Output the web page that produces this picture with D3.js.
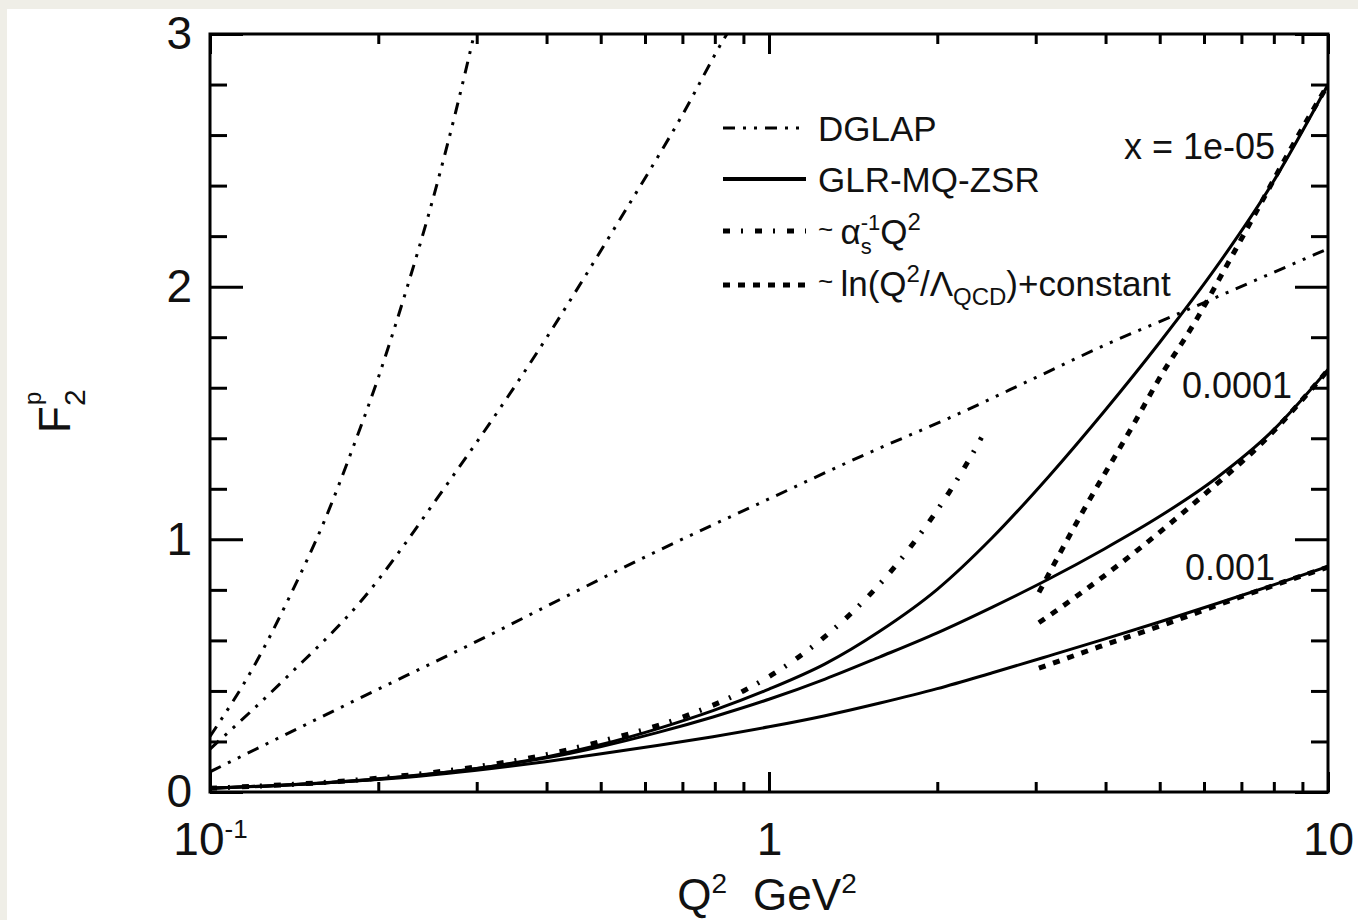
<!DOCTYPE html>
<html>
<head>
<meta charset="utf-8">
<script src="https://cdn.jsdelivr.net/npm/d3@7"></script>
<style>
    body { margin: 0; background: #efeee7; }
    svg text { font-family: "Liberation Sans", Arial, Helvetica, sans-serif; fill: #111; }
</style>
</head>
<body>
<svg id="chart" width="1358" height="920"></svg>
<script>
// ticks
const xMajorTicks = [0.1, 1, 10];
const xMinorTicks = [0.2, 0.3, 0.4, 0.5, 0.6, 0.7, 0.8, 0.9, 2, 3, 4, 5, 6, 7, 8, 9];
const yMajorTicks = [0, 1, 2, 3];
const yMinorTicks = [0.2, 0.4, 0.6, 0.8, 1.2, 1.4, 1.6, 1.8, 2.2, 2.4, 2.6, 2.8];

// DGLAP curves  [Q2, F2]
const dglap_1e5 = [[0.1,0.22],[0.12,0.5],[0.14,0.79],[0.16,1.07],[0.18,1.36],[0.2,1.64],[0.224,1.98],[0.25,2.34],[0.275,2.69],[0.297,3.0],[0.31,3.18]];
const dglap_1e4 = [[0.1,0.17],[0.138,0.46],[0.187,0.76],[0.264,1.21],[0.372,1.69],[0.539,2.26],[0.70,2.68],[0.841,3.0],[0.9,3.1]];
const dglap_1e3 = [[0.1,0.08],[0.177,0.35],[0.329,0.64],[0.421,0.76],[0.6,0.93],[1,1.16],[1.5,1.34],[2.1,1.48],[3,1.64],[4,1.77],[5.49,1.9],[7.5,2.03],[10,2.15]];

// GLR-MQ-ZSR curves
const glr_1e5 = [[0.1,0.015],[0.126,0.023],[0.158,0.035],[0.2,0.051],[0.251,0.072],[0.316,0.1],[0.398,0.138],[0.501,0.188],[0.631,0.25],[0.794,0.322],[1,0.407],[1.26,0.507],[1.58,0.637],[2.0,0.802],[2.51,1.007],[3.16,1.247],[3.98,1.507],[5.01,1.782],[6.31,2.077],[7.94,2.407],[10,2.80]];
const glr_1e4 = [[0.1,0.015],[0.126,0.024],[0.158,0.036],[0.2,0.052],[0.251,0.073],[0.316,0.1],[0.398,0.134],[0.501,0.18],[0.631,0.235],[0.794,0.297],[1,0.367],[1.26,0.447],[1.58,0.535],[2.0,0.63],[2.51,0.732],[3.16,0.842],[3.98,0.962],[5.01,1.092],[6.31,1.242],[7.94,1.427],[10,1.672]];
const glr_1e3 = [[0.1,0.015],[0.126,0.024],[0.158,0.035],[0.2,0.049],[0.251,0.068],[0.316,0.092],[0.398,0.12],[0.501,0.151],[0.631,0.184],[0.794,0.219],[1,0.258],[1.26,0.302],[1.58,0.352],[2.0,0.409],[2.51,0.472],[3.16,0.538],[3.98,0.605],[5.01,0.674],[6.31,0.745],[7.94,0.818],[10,0.893]];

// ~ alpha_s^-1 Q^2
const alpha_1e5 = [[0.1,0.015],[0.2,0.055],[0.3,0.1],[0.4,0.148],[0.5,0.2],[0.7,0.296],[0.9,0.4],[1.1,0.516],[1.3,0.641],[1.5,0.771],[1.7,0.906],[1.9,1.046],[2.1,1.186],[2.3,1.33],[2.4,1.403]];

// ~ ln(Q^2/Lambda) + constant
const ln_1e5 = [[3.04,0.79],[3.63,1.104],[4.46,1.444],[5.13,1.68],[5.48,1.777],[5.81,1.868],[6.5,2.06],[7.5,2.31],[8.7,2.57],[10,2.80]];
const ln_1e4 = [[3.04,0.67],[3.5,0.765],[4.46,0.94],[5.88,1.16],[7.77,1.40],[10,1.67]];
const ln_1e3 = [[3.04,0.49],[3.9,0.575],[5.13,0.665],[6.73,0.76],[10,0.89]];

// curve labels
const curveLabels = [
    { text: 'x = 1e-05', q2: 10, f2: 2.8 },
    { text: '0.0001', q2: 10, f2: 1.67 },
    { text: '0.001', q2: 10, f2: 0.89 }
];

const styles = {
    dglap: { width: 3, dash: '12,8,3,8,3,8' },
    glr:   { width: 3, dash: null },
    alpha: { width: 5, dash: '7,11,2,12' },
    ln:    { width: 5, dash: '7,8' }
};

const series = [
    { type: 'dglap', data: dglap_1e5 },
    { type: 'dglap', data: dglap_1e4 },
    { type: 'dglap', data: dglap_1e3 },
    { type: 'glr', data: glr_1e5 },
    { type: 'glr', data: glr_1e4 },
    { type: 'glr', data: glr_1e3 },
    { type: 'alpha', data: alpha_1e5 },
    { type: 'ln', data: ln_1e5 },
    { type: 'ln', data: ln_1e4 },
    { type: 'ln', data: ln_1e3 }
];

const margin = { top: 34, right: 30, bottom: 128, left: 210 };
const W = 1358, H = 920;

const svg = d3.select('#chart');
svg.append('rect')
    .attr('x', 7).attr('y', 9)
    .attr('width', W - 7).attr('height', H - 9)
    .attr('fill', '#fff');

const x = d3.scaleLog().domain([0.1, 10]).range([margin.left, W - margin.right]);
const y = d3.scaleLinear().domain([0, 3]).range([H - margin.bottom, margin.top]);

svg.append('clipPath').attr('id', 'plotclip')
    .append('rect')
    .attr('x', margin.left).attr('y', margin.top)
    .attr('width', W - margin.right - margin.left)
    .attr('height', H - margin.bottom - margin.top);

// curves
const line = d3.line()
    .x(d => x(d[0]))
    .y(d => y(d[1]))
    .curve(d3.curveMonotoneX);

svg.append('g').attr('clip-path', 'url(#plotclip)')
    .selectAll('path')
    .data(series)
    .join('path')
    .attr('d', d => line(d.data))
    .attr('fill', 'none')
    .attr('stroke', '#000')
    .attr('stroke-width', d => styles[d.type].width)
    .attr('stroke-dasharray', d => styles[d.type].dash);

// axes
function styleAxis(g) {
    g.select('.domain').remove();
    g.selectAll('.tick line').attr('stroke', '#000').attr('stroke-width', 3);
    g.selectAll('.tick text').attr('font-size', 46).attr('fill', '#111');
}

const xBottom = svg.append('g')
    .attr('transform', `translate(0,${y(0)})`)
    .call(d3.axisBottom(x).tickValues(xMajorTicks).tickSize(-20).tickSizeOuter(0).tickPadding(30)
        .tickFormat(d => d === 0.1 ? '10' : d3.format('d')(d)))
    .call(styleAxis);
xBottom.selectAll('.tick text').filter(d => d === 0.1)
    .append('tspan').attr('font-size', 26).attr('dy', -17).text('-1');

svg.append('g')
    .attr('transform', `translate(0,${y(0)})`)
    .call(d3.axisBottom(x).tickValues(xMinorTicks).tickSize(-10).tickSizeOuter(0).tickFormat(''))
    .call(styleAxis);

svg.append('g')
    .attr('transform', `translate(0,${y(3)})`)
    .call(d3.axisTop(x).tickValues(xMajorTicks).tickSize(-20).tickSizeOuter(0).tickFormat(''))
    .call(styleAxis);
svg.append('g')
    .attr('transform', `translate(0,${y(3)})`)
    .call(d3.axisTop(x).tickValues(xMinorTicks).tickSize(-10).tickSizeOuter(0).tickFormat(''))
    .call(styleAxis);

svg.append('g')
    .attr('transform', `translate(${x(0.1)},0)`)
    .call(d3.axisLeft(y).tickValues(yMajorTicks).tickSize(-33).tickSizeOuter(0).tickPadding(18)
        .tickFormat(d3.format('d')))
    .call(styleAxis);
svg.append('g')
    .attr('transform', `translate(${x(0.1)},0)`)
    .call(d3.axisLeft(y).tickValues(yMinorTicks).tickSize(-17).tickSizeOuter(0).tickFormat(''))
    .call(styleAxis);

svg.append('g')
    .attr('transform', `translate(${x(10)},0)`)
    .call(d3.axisRight(y).tickValues(yMajorTicks).tickSize(-33).tickSizeOuter(0).tickFormat(''))
    .call(styleAxis);
svg.append('g')
    .attr('transform', `translate(${x(10)},0)`)
    .call(d3.axisRight(y).tickValues(yMinorTicks).tickSize(-17).tickSizeOuter(0).tickFormat(''))
    .call(styleAxis);

// frame
svg.append('rect')
    .attr('x', x(0.1)).attr('y', y(3))
    .attr('width', x(10) - x(0.1)).attr('height', y(0) - y(3))
    .attr('fill', 'none').attr('stroke', '#000').attr('stroke-width', 3);

// axis titles
const xt = svg.append('text')
    .attr('x', (x(0.1) + x(10)) / 2 - 2)
    .attr('y', 910)
    .attr('text-anchor', 'middle')
    .attr('font-size', 44);
xt.append('tspan').text('Q');
xt.append('tspan').attr('font-size', 28).attr('dy', -17).text('2');
xt.append('tspan').attr('dx', 26).attr('dy', 17).text('GeV');
xt.append('tspan').attr('font-size', 28).attr('dy', -17).text('2');

const yt = svg.append('g').attr('transform', 'translate(70,430) rotate(-90)');
yt.append('text').attr('x', -3).attr('y', 0).attr('font-size', 44).text('F');
yt.append('text').attr('x', 24).attr('y', 15).attr('font-size', 30).text('2');
yt.append('text').attr('x', 25).attr('y', -29).attr('font-size', 24).text('p');

// legend
const legendItems = [
    { type: 'dglap', y: 128, base: 141 },
    { type: 'glr',   y: 179, base: 192 },
    { type: 'alpha', y: 231, base: 244 },
    { type: 'ln',    y: 285, base: 296 }
];
const legend = svg.append('g').attr('font-size', 35);
legend.selectAll('line')
    .data(legendItems)
    .join('line')
    .attr('x1', 723).attr('x2', 806)
    .attr('y1', d => d.y).attr('y2', d => d.y)
    .attr('stroke', '#000')
    .attr('stroke-width', d => d.type === 'glr' ? 4 : styles[d.type].width)
    .attr('stroke-dasharray', d => styles[d.type].dash);

legend.append('text').attr('x', 818).attr('y', legendItems[0].base).text('DGLAP');
legend.append('text').attr('x', 818).attr('y', legendItems[1].base).text('GLR-MQ-ZSR');

const ta = legend.append('text').attr('x', 818).attr('y', legendItems[2].base);
ta.append('tspan').attr('font-size', 26).attr('dy', -6).text('~ ');
ta.append('tspan').attr('dy', 6).text('α');
const sSub = ta.append('tspan').attr('font-size', 22).attr('dy', 10).text('s');
const sw = sSub.node().getComputedTextLength();
ta.append('tspan').attr('font-size', 22).attr('dx', -sw).attr('dy', -24).text('-1');
ta.append('tspan').attr('dy', 14).text('Q');
ta.append('tspan').attr('font-size', 24).attr('dy', -14).text('2');

const tl = legend.append('text').attr('x', 818).attr('y', legendItems[3].base);
tl.append('tspan').attr('font-size', 26).attr('dy', -6).text('~ ');
tl.append('tspan').attr('dy', 6).text('ln(Q');
tl.append('tspan').attr('font-size', 24).attr('dy', -14).text('2');
tl.append('tspan').attr('dy', 14).text('/Λ');
tl.append('tspan').attr('font-size', 24).attr('dy', 9).text('QCD');
tl.append('tspan').attr('dy', -9).text(')+constant');

// curve labels, right-aligned near the right axis
const labelOffsets = [[-53, 74], [-36, 28], [-53, 13]];
svg.append('g').attr('font-size', 36)
    .selectAll('text')
    .data(curveLabels)
    .join('text')
    .attr('text-anchor', 'end')
    .attr('x', (d, i) => x(d.q2) + labelOffsets[i][0])
    .attr('y', (d, i) => y(d.f2) + labelOffsets[i][1])
    .text(d => d.text);
</script>
</body>
</html>
